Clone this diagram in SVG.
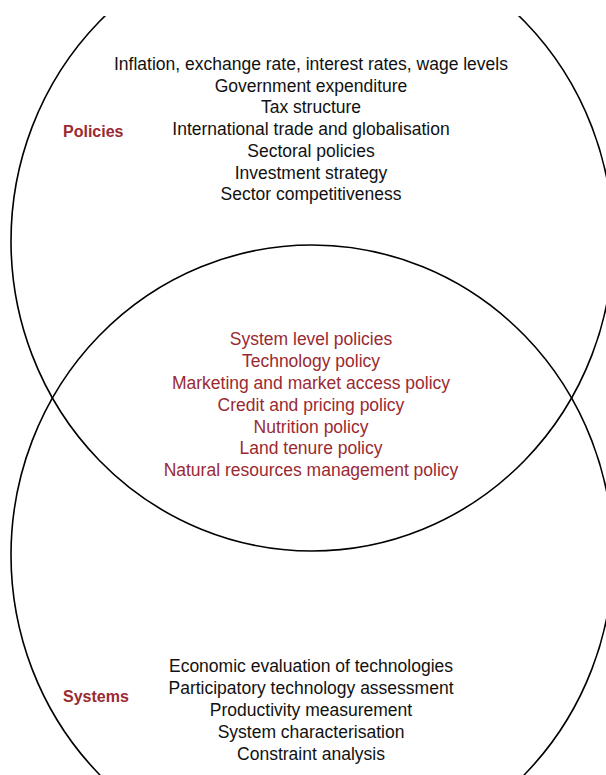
<svg xmlns="http://www.w3.org/2000/svg" width="606" height="775" viewBox="0 0 606 775">
  <style>
    .ring { fill: none; stroke: #000; stroke-width: 1.6; }
    .item { font-family: "Liberation Sans", Arial, sans-serif; font-size: 17.5px; fill: #111; text-anchor: middle; }
    .shared { fill: #9a2a32; }
    .title { font-family: "Liberation Sans", Arial, sans-serif; font-size: 16px; font-weight: bold; fill: #9a2a32; }
  </style>
  <defs>
    <clipPath id="frame">
      <rect x="0" y="16" width="606" height="759"/>
    </clipPath>
  </defs>
  <rect width="606" height="775" fill="#fff"/>

  <!-- Policies set -->
  <g id="policies">
    <ellipse class="ring" cx="312" cy="241" rx="301" ry="310" clip-path="url(#frame)"/>
    <text class="title" x="63" y="137">Policies</text>
    <text class="item" x="311" y="70">Inflation, exchange rate, interest rates, wage levels</text>
    <text class="item" x="311" y="92">Government expenditure</text>
    <text class="item" x="311" y="113">Tax structure</text>
    <text class="item" x="311" y="135">International trade and globalisation</text>
    <text class="item" x="311" y="157">Sectoral policies</text>
    <text class="item" x="311" y="179">Investment strategy</text>
    <text class="item" x="311" y="200">Sector competitiveness</text>
  </g>

  <!-- Systems set -->
  <g id="systems">
    <ellipse class="ring" cx="312" cy="555" rx="301" ry="310" clip-path="url(#frame)"/>
    <text class="title" x="63" y="702">Systems</text>
    <text class="item" x="311" y="672">Economic evaluation of technologies</text>
    <text class="item" x="311" y="694">Participatory technology assessment</text>
    <text class="item" x="311" y="716">Productivity measurement</text>
    <text class="item" x="311" y="738">System characterisation</text>
    <text class="item" x="311" y="760">Constraint analysis</text>
  </g>

  <!-- Overlap of both sets -->
  <g id="overlap">
    <text class="item shared" x="311" y="345">System level policies</text>
    <text class="item shared" x="311" y="367">Technology policy</text>
    <text class="item shared" x="311" y="389">Marketing and market access policy</text>
    <text class="item shared" x="311" y="411">Credit and pricing policy</text>
    <text class="item shared" x="311" y="433">Nutrition policy</text>
    <text class="item shared" x="311" y="454">Land tenure policy</text>
    <text class="item shared" x="311" y="476">Natural resources management policy</text>
  </g>
</svg>
